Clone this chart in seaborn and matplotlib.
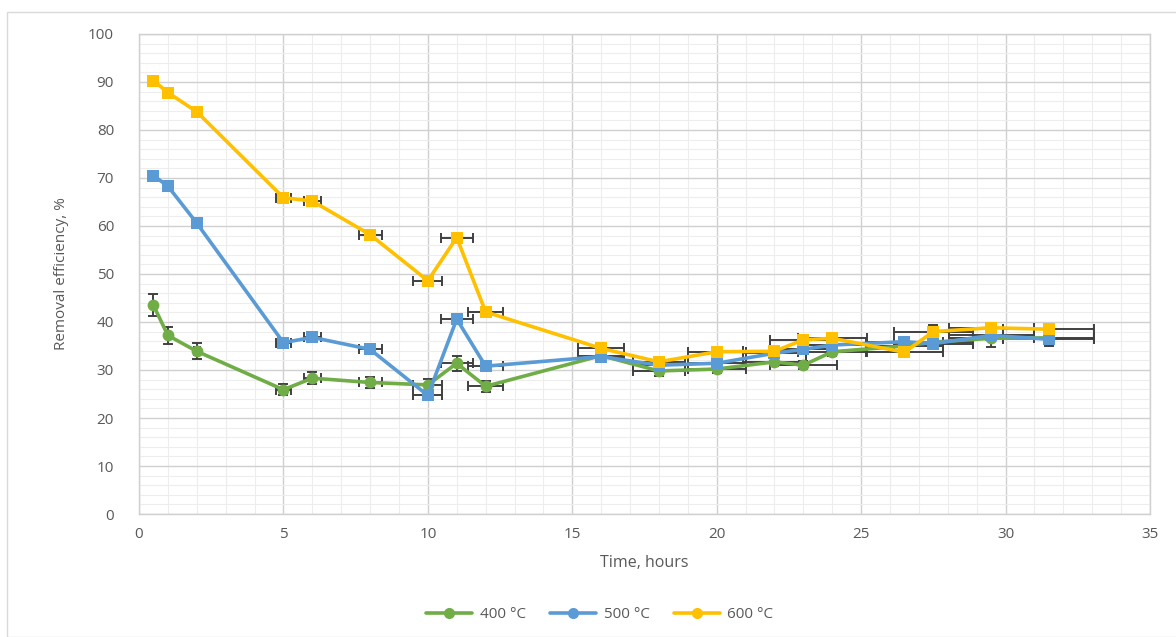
import matplotlib
matplotlib.use("Agg")
import matplotlib.pyplot as plt
from matplotlib.lines import Line2D
from matplotlib.patches import Rectangle
from matplotlib.ticker import MultipleLocator
import numpy as np
import pandas as pd
import seaborn as sns

# ---- data ----
time_h = [0.5, 1, 2, 5, 6, 8, 10, 11, 12, 16, 18, 20, 22, 23, 24, 26.5, 27.5, 29.5, 31.5]
eff_400 = [43.5, 37.2, 33.9, 25.9, 28.3, 27.4, 26.9, 31.4, 26.6, 33.0, 29.8, 30.2, 31.7, 31.0,
           33.8, 35.0, 35.8, 36.6, 36.7]
eff_500 = [70.5, 68.3, 60.6, 35.7, 36.8, 34.3, 24.7, 40.6, 30.8, 32.8, 31.0, 31.4, 33.5, 34.3,
           35.2, 35.9, 35.5, 37.2, 36.4]
eff_600 = [90.3, 87.8, 83.8, 65.9, 65.2, 58.2, 48.6, 57.6, 42.1, 34.5, 31.7, 33.8, 33.9, 36.3,
           36.6, 33.7, 38.0, 38.8, 38.5]
xerr_time = [0.025, 0.05, 0.1, 0.25, 0.3, 0.4, 0.5, 0.55, 0.6, 0.8, 0.9, 1.0, 1.1, 1.15, 1.2,
             1.325, 1.375, 1.475, 1.575]
yerr_400 = [2.3, 1.7, 1.7, 1.2, 1.3, 1.2, 1.2, 1.6, 1.2, 0.8, 1.0, 0.8, 0.8, 0.8, 0.8, 0.8, 0.8, 1.8, 1.8]
yerr_500 = [0.8] * 19
yerr_600 = [0.8, 0.8, 0.8, 0.8, 0.8, 0.8, 0.8, 0.8, 0.8, 0.8, 0.8, 0.8, 0.8, 0.8, 0.8, 0.8, 1.4, 0.8, 0.8]
series_names = ["400 °C", "500 °C", "600 °C"]
colors = ["#70AD47", "#5B9BD5", "#FFC000"]
xlabel_txt = "Time, hours"
ylabel_txt = "Removal efficiency, %"

sns.set_style("white")
plt.rcParams["font.family"] = ["Open Sans", "DejaVu Sans"]

values = [eff_400, eff_500, eff_600]
yerrs = [yerr_400, yerr_500, yerr_600]
df = pd.DataFrame({
    "time": time_h * 3,
    "eff": eff_400 + eff_500 + eff_600,
    "series": sum([[n] * len(time_h) for n in series_names], []),
})

fig = plt.figure(figsize=(11.76, 6.37), dpi=100)
fig.patches.append(Rectangle((7 / 1176, 0), 1.2, 1 - 12 / 637, transform=fig.transFigure,
                             fill=False, edgecolor="#D9D9D9", linewidth=1.0))
ax = fig.add_axes([139 / 1176, 123 / 637, 1011 / 1176, 480 / 637])

palette = dict(zip(series_names, colors))
sns.lineplot(data=df, x="time", y="eff", hue="series", style="series",
             markers={"400 °C": "o", "500 °C": "s", "600 °C": "s"}, dashes=False,
             palette=palette, sort=False, estimator=None, ax=ax, legend=False,
             linewidth=2.6, markersize=8.5, markeredgewidth=0, zorder=3)

for vals, ye in zip(values, yerrs):
    ax.errorbar(time_h, vals, xerr=xerr_time, yerr=ye, fmt="none", ecolor="#404040",
                elinewidth=1.4, capsize=3.5, capthick=1.4, zorder=2.5)

ax.set_xlim(0, 35)
ax.set_ylim(0, 100)
ax.xaxis.set_major_locator(MultipleLocator(5))
ax.xaxis.set_minor_locator(MultipleLocator(1))
ax.yaxis.set_major_locator(MultipleLocator(10))
ax.yaxis.set_minor_locator(MultipleLocator(2))
ax.grid(which="major", color="#D0D0D0", linewidth=1.0, zorder=0)
ax.grid(which="minor", color="#EDEDED", linewidth=0.8, zorder=0)
ax.set_axisbelow(True)
for s in ax.spines.values():
    s.set_color("#D0D0D0")
    s.set_linewidth(1.0)
ax.tick_params(axis="both", which="both", length=0, labelsize=11, labelcolor="#595959")
ax.tick_params(axis="x", pad=9)
ax.tick_params(axis="y", pad=18)

ax.set_xlabel(xlabel_txt, fontsize=11.5, color="#595959", labelpad=10)
ax.set_ylabel(ylabel_txt, fontsize=11, color="#595959", labelpad=14)

handles = [Line2D([0], [0], color=c, lw=2.6, marker="o", markersize=8, markeredgewidth=0)
           for c in colors]
fig.legend(handles, series_names, loc="center", bbox_to_anchor=(0.51, 1 - 615 / 637),
           ncol=3, frameon=False, fontsize=11, labelcolor="#595959",
           handlelength=3.0, columnspacing=1.6, handletextpad=0.5)

fig.savefig("out.png", dpi=100)
